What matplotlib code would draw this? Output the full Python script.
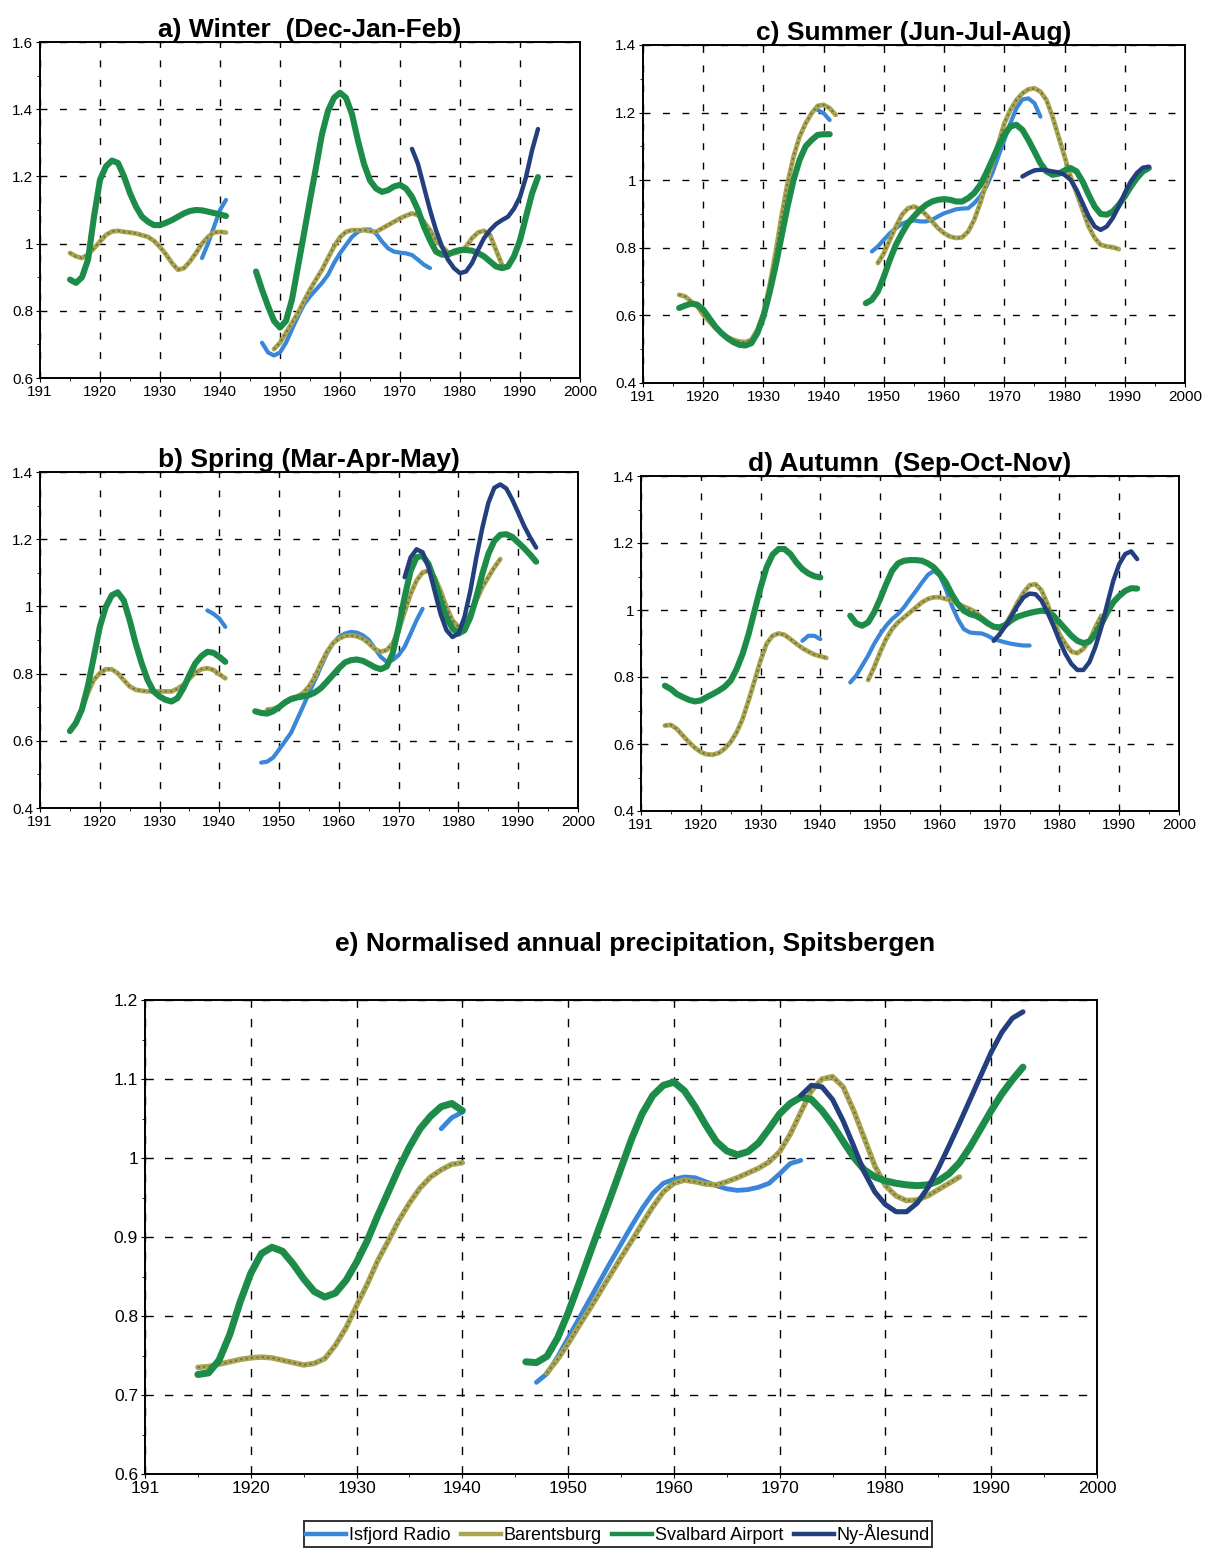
import numpy as np
import matplotlib
matplotlib.use("Agg")
import matplotlib.pyplot as plt
from matplotlib.lines import Line2D

plt.rcParams['font.family'] = ['Liberation Sans', 'DejaVu Sans']

# station colours
ISF_C = '#3a86d8'
BAR_C = '#a8a452'
SVA_C = '#1c8c48'
NYA_C = '#233f7e'

# each series is a list of segments: (first year, yearly values)

# a) winter
a_isf = [(1937, [0.957, 1.0, 1.05, 1.10, 1.13]),
         (1947, [0.705, 0.676, 0.667, 0.676, 0.705, 0.745, 0.784, 0.819, 0.843, 0.863,
                 0.883, 0.907, 0.942, 0.971, 0.996, 1.02, 1.035, 1.042, 1.042, 1.03,
                 1.006, 0.986, 0.976, 0.973, 0.971, 0.966, 0.952, 0.937, 0.927])]
a_bar = [(1915, [0.972, 0.962, 0.957, 0.967, 0.986, 1.006, 1.026, 1.036, 1.038, 1.035,
                 1.033, 1.03, 1.025, 1.02, 1.008, 0.99, 0.968, 0.942, 0.922, 0.927,
                 0.947, 0.972, 1.0, 1.02, 1.033, 1.035, 1.033]),
         (1949, [0.686, 0.705, 0.735, 0.764, 0.794, 0.829, 0.863, 0.893, 0.922, 0.957,
                 0.991, 1.019, 1.035, 1.04, 1.04, 1.04, 1.037, 1.035, 1.045, 1.055,
                 1.065, 1.075, 1.083, 1.09, 1.085, 1.065, 1.04, 1.01, 0.991, 0.974,
                 0.971, 0.976, 0.991, 1.016, 1.033, 1.038, 1.026, 0.981, 0.937])]
a_sva = [(1915, [0.893, 0.883, 0.90, 0.952, 1.08, 1.19, 1.23, 1.247, 1.24, 1.20,
                 1.15, 1.11, 1.08, 1.065, 1.055, 1.055, 1.062, 1.07, 1.08, 1.09,
                 1.097, 1.10, 1.099, 1.095, 1.091, 1.087, 1.082]),
         (1946, [0.917, 0.863, 0.814, 0.77, 0.75, 0.77, 0.834, 0.932, 1.03, 1.13,
                 1.227, 1.326, 1.395, 1.434, 1.449, 1.434, 1.385, 1.306, 1.237, 1.188,
                 1.164, 1.154, 1.159, 1.17, 1.175, 1.164, 1.139, 1.10, 1.05, 1.01,
                 0.976, 0.967, 0.967, 0.976, 0.981, 0.981, 0.979, 0.972, 0.962, 0.947,
                 0.932, 0.927, 0.932, 0.962, 1.01, 1.08, 1.149, 1.198])]
a_nya = [(1972, [1.282, 1.237, 1.168, 1.10, 1.04, 0.991, 0.952, 0.927, 0.912, 0.917,
                 0.942, 0.981, 1.016, 1.04, 1.058, 1.07, 1.08, 1.104, 1.139, 1.198,
                 1.277, 1.341])]

# b) spring
b_isf = [(1938, [0.988, 0.978, 0.964, 0.939]),
         (1947, [0.535, 0.538, 0.55, 0.574, 0.599, 0.624, 0.663, 0.702, 0.742, 0.781,
                 0.821, 0.86, 0.89, 0.909, 0.919, 0.924, 0.922, 0.914, 0.90, 0.875,
                 0.85, 0.835, 0.84, 0.855, 0.88, 0.919, 0.959, 0.993])]
b_bar = [(1916, [0.653, 0.693, 0.742, 0.781, 0.801, 0.813, 0.813, 0.801, 0.781, 0.762,
                 0.752, 0.749, 0.747, 0.747, 0.747, 0.747, 0.747, 0.755, 0.767, 0.785,
                 0.803, 0.813, 0.816, 0.811, 0.798, 0.786]),
         (1948, [0.693, 0.695, 0.702, 0.717, 0.727, 0.732, 0.742, 0.762, 0.791, 0.83,
                 0.865, 0.89, 0.904, 0.912, 0.914, 0.911, 0.904, 0.89, 0.873, 0.865,
                 0.87, 0.89, 0.929, 0.983, 1.037, 1.077, 1.101, 1.106, 1.087, 1.047,
                 0.998, 0.959, 0.939, 0.949, 0.978, 1.018, 1.057, 1.087, 1.116, 1.141])]
b_sva = [(1915, [0.629, 0.653, 0.693, 0.762, 0.85, 0.939, 0.998, 1.033, 1.042, 1.018,
                 0.959, 0.89, 0.831, 0.781, 0.747, 0.732, 0.722, 0.717, 0.727, 0.757,
                 0.796, 0.831, 0.852, 0.865, 0.862, 0.85, 0.835]),
         (1946, [0.688, 0.683, 0.681, 0.688, 0.70, 0.714, 0.724, 0.729, 0.732, 0.736,
                 0.744, 0.757, 0.776, 0.796, 0.816, 0.833, 0.84, 0.842, 0.838, 0.829,
                 0.819, 0.813, 0.821, 0.86, 0.939, 1.028, 1.106, 1.146, 1.151, 1.126,
                 1.077, 1.018, 0.968, 0.934, 0.919, 0.929, 0.968, 1.028, 1.097, 1.156,
                 1.195, 1.213, 1.215, 1.207, 1.19, 1.173, 1.154, 1.133])]
b_nya = [(1971, [1.087, 1.146, 1.17, 1.161, 1.116, 1.047, 0.978, 0.929, 0.909, 0.919,
                 0.968, 1.047, 1.146, 1.234, 1.308, 1.353, 1.363, 1.351, 1.318, 1.279,
                 1.239, 1.205, 1.175])]

# c) summer
c_isf = [(1939, [1.208, 1.198, 1.178]),
         (1948, [0.789, 0.804, 0.824, 0.843, 0.858, 0.871, 0.878, 0.881, 0.878, 0.878,
                 0.883, 0.893, 0.902, 0.908, 0.914, 0.916, 0.917, 0.932, 0.952, 0.981,
                 1.021, 1.07, 1.119, 1.168, 1.213, 1.239, 1.242, 1.228, 1.188])]
c_bar = [(1916, [0.661, 0.656, 0.641, 0.627, 0.602, 0.582, 0.563, 0.548, 0.536, 0.528,
                 0.523, 0.521, 0.528, 0.558, 0.607, 0.686, 0.784, 0.893, 0.991, 1.07,
                 1.129, 1.168, 1.198, 1.22, 1.223, 1.213, 1.193]),
         (1949, [0.755, 0.784, 0.824, 0.863, 0.898, 0.917, 0.922, 0.914, 0.898, 0.878,
                 0.858, 0.843, 0.833, 0.829, 0.831, 0.848, 0.883, 0.932, 0.991, 1.05,
                 1.109, 1.168, 1.208, 1.237, 1.257, 1.269, 1.272, 1.262, 1.237, 1.188,
                 1.129, 1.07, 1.011, 0.962, 0.912, 0.863, 0.829, 0.809, 0.804, 0.802,
                 0.796])]
c_sva = [(1916, [0.622, 0.629, 0.635, 0.632, 0.617, 0.592, 0.567, 0.548, 0.533, 0.521,
                 0.513, 0.511, 0.518, 0.548, 0.597, 0.666, 0.745, 0.834, 0.922, 1.001,
                 1.06, 1.10, 1.119, 1.134, 1.136, 1.136]),
         (1947, [0.636, 0.646, 0.671, 0.715, 0.765, 0.809, 0.843, 0.873, 0.893, 0.912,
                 0.927, 0.937, 0.942, 0.944, 0.942, 0.937, 0.937, 0.947, 0.962, 0.986,
                 1.021, 1.06, 1.10, 1.134, 1.159, 1.164, 1.149, 1.119, 1.085, 1.05,
                 1.026, 1.016, 1.019, 1.029, 1.036, 1.026, 0.996, 0.957, 0.922, 0.90,
                 0.898, 0.907, 0.927, 0.952, 0.981, 1.006, 1.026, 1.036])]
c_nya = [(1973, [1.011, 1.021, 1.029, 1.031, 1.029, 1.026, 1.023, 1.016, 1.001, 0.971,
                 0.932, 0.893, 0.863, 0.853, 0.863, 0.888, 0.922, 0.962, 0.996, 1.021,
                 1.037, 1.04])]

# d) autumn
d_isf = [(1937, [0.908, 0.923, 0.923, 0.913]),
         (1945, [0.784, 0.804, 0.834, 0.864, 0.899, 0.928, 0.953, 0.973, 0.988, 1.008,
                 1.033, 1.057, 1.082, 1.105, 1.117, 1.102, 1.062, 1.013, 0.973, 0.943,
                 0.933, 0.931, 0.93, 0.923, 0.913, 0.908, 0.903, 0.899, 0.896, 0.894,
                 0.894])]
d_bar = [(1914, [0.655, 0.657, 0.645, 0.625, 0.606, 0.589, 0.576, 0.569, 0.568, 0.573,
                 0.586, 0.606, 0.635, 0.675, 0.73, 0.789, 0.849, 0.899, 0.923, 0.93,
                 0.926, 0.913, 0.899, 0.886, 0.876, 0.867, 0.862, 0.857]),
         (1948, [0.791, 0.829, 0.874, 0.913, 0.943, 0.963, 0.978, 0.993, 1.008, 1.023,
                 1.033, 1.038, 1.038, 1.033, 1.028, 1.02, 1.01, 1.003, 0.993, 0.978,
                 0.963, 0.95, 0.943, 0.958, 0.988, 1.023, 1.052, 1.074, 1.077, 1.059,
                 1.018, 0.968, 0.928, 0.899, 0.876, 0.871, 0.884, 0.908, 0.948, 0.983])]
d_sva = [(1914, [0.774, 0.764, 0.749, 0.74, 0.732, 0.727, 0.73, 0.74, 0.749, 0.759,
                 0.771, 0.789, 0.824, 0.869, 0.928, 0.998, 1.067, 1.127, 1.165, 1.182,
                 1.182, 1.167, 1.142, 1.122, 1.109, 1.101, 1.097]),
         (1945, [0.983, 0.96, 0.953, 0.963, 0.993, 1.033, 1.077, 1.117, 1.139, 1.147,
                 1.149, 1.149, 1.147, 1.139, 1.127, 1.107, 1.082, 1.047, 1.018, 0.998,
                 0.988, 0.983, 0.973, 0.96, 0.95, 0.948, 0.956, 0.97, 0.98, 0.986,
                 0.991, 0.995, 0.998, 0.996, 0.983, 0.963, 0.943, 0.923, 0.908, 0.901,
                 0.906, 0.928, 0.958, 0.993, 1.023, 1.042, 1.057, 1.065, 1.064])]
d_nya = [(1969, [0.908, 0.928, 0.953, 0.983, 1.013, 1.038, 1.049, 1.047, 1.028, 0.993,
                 0.953, 0.908, 0.869, 0.839, 0.821, 0.821, 0.844, 0.889, 0.948, 1.018,
                 1.087, 1.137, 1.167, 1.175, 1.152])]

# e) annual
e_isf = [(1938, [1.037, 1.051, 1.058]),
         (1947, [0.716, 0.727, 0.748, 0.772, 0.796, 0.82, 0.844, 0.868, 0.891, 0.914,
                 0.936, 0.955, 0.968, 0.973, 0.976, 0.975, 0.97, 0.965, 0.961, 0.959,
                 0.96, 0.963, 0.968, 0.98, 0.993, 0.997])]
e_bar = [(1915, [0.735, 0.736, 0.739, 0.742, 0.745, 0.747, 0.748, 0.747, 0.744, 0.741,
                 0.738, 0.74, 0.746, 0.763, 0.785, 0.813, 0.84, 0.87, 0.895, 0.921,
                 0.943, 0.962, 0.976, 0.985, 0.992, 0.994]),
         (1948, [0.728, 0.745, 0.765, 0.787, 0.808, 0.83, 0.852, 0.874, 0.895, 0.917,
                 0.938, 0.957, 0.968, 0.972, 0.97, 0.967, 0.966, 0.97, 0.975, 0.981,
                 0.987, 0.995, 1.008, 1.03, 1.058, 1.085, 1.10, 1.103, 1.09, 1.06,
                 1.025, 0.99, 0.965, 0.952, 0.946, 0.947, 0.952, 0.96, 0.968, 0.976])]
e_sva = [(1915, [0.726, 0.728, 0.744, 0.776, 0.818, 0.854, 0.879, 0.887, 0.882, 0.866,
                 0.847, 0.831, 0.824, 0.829, 0.845, 0.868, 0.895, 0.927, 0.957, 0.987,
                 1.014, 1.037, 1.053, 1.065, 1.069, 1.06]),
         (1946, [0.742, 0.741, 0.749, 0.772, 0.804, 0.84, 0.877, 0.914, 0.95, 0.987,
                 1.024, 1.056, 1.079, 1.092, 1.096, 1.085, 1.065, 1.042, 1.021, 1.009,
                 1.004, 1.008, 1.019, 1.037, 1.056, 1.069, 1.077, 1.074, 1.06, 1.042,
                 1.021, 1.001, 0.985, 0.976, 0.971, 0.968, 0.966, 0.965, 0.966, 0.971,
                 0.98, 0.994, 1.014, 1.037, 1.06, 1.081, 1.099, 1.115])]
e_nya = [(1972, [1.079, 1.092, 1.09, 1.074, 1.047, 1.015, 0.982, 0.957, 0.941, 0.932,
                 0.932, 0.943, 0.962, 0.987, 1.015, 1.044, 1.074, 1.104, 1.134, 1.159,
                 1.177, 1.185])]

stations = ['Isfjord Radio', 'Barentsburg', 'Svalbard Airport', 'Ny-Ålesund']
year_ticks = [1910, 1920, 1930, 1940, 1950, 1960, 1970, 1980, 1990, 2000]
year_labels = ['191', '1920', '1930', '1940', '1950', '1960', '1970', '1980', '1990', '2000']

W, H = 1210, 1548
fig = plt.figure(figsize=(W / 100, H / 100), dpi=100)


def box(left, top, right, bottom):
    # pixel box -> figure fraction
    return [left / W, 1 - bottom / H, (right - left) / W, (bottom - top) / H]


def draw_series(ax, segments, color, lw, textured=False):
    for start, vals in segments:
        yrs = np.arange(start, start + len(vals))
        ax.plot(yrs, vals, color=color, lw=lw, solid_capstyle='round',
                solid_joinstyle='round')
        if textured:
            ax.plot(yrs, vals, color='#5a5830', lw=1.3, ls=(0, (1, 2)), alpha=0.8)


def season_panel(rect, title, series, ylim, yticks, ylabels, fs=11, big=False):
    ax = fig.add_axes(rect)
    isf, bar, sva, nya = series
    k = 1.15 if big else 1.0
    draw_series(ax, isf, ISF_C, 3.0 * k)
    draw_series(ax, bar, BAR_C, 3.4 * k, textured=True)
    draw_series(ax, sva, SVA_C, 4.4 * k)
    draw_series(ax, nya, NYA_C, 3.2 * k)
    ax.set_xlim(1910, 2000)
    ax.set_ylim(*ylim)
    ax.set_xticks(year_ticks)
    ax.set_xticklabels(year_labels)
    ax.set_xticks(np.arange(1915, 2000, 10), minor=True)
    ax.set_yticks(yticks)
    ax.set_yticklabels(ylabels)
    step = yticks[1] - yticks[0]
    ax.set_yticks(np.arange(ylim[0] + step / 2, ylim[1], step), minor=True)
    ax.grid(True, which='major', color='black', lw=1.0,
            ls=(0, (5, 9)) if not big else (0, (6, 8)))
    ax.set_axisbelow(True)
    ax.tick_params(which='major', direction='out', length=3, labelsize=fs, pad=2)
    ax.tick_params(which='minor', direction='out', length=2)
    for s in ax.spines.values():
        s.set_linewidth(1.4)
    if title:
        ax.set_title(title, fontsize=19, fontweight='bold', pad=3)
    return ax


season_panel(box(40, 42, 580, 378), 'a) Winter  (Dec-Jan-Feb)',
             (a_isf, a_bar, a_sva, a_nya), (0.6, 1.6),
             [0.6, 0.8, 1.0, 1.2, 1.4, 1.6], ['0.6', '0.8', '1', '1.2', '1.4', '1.6'])
season_panel(box(643, 45, 1185, 383), 'c) Summer (Jun-Jul-Aug)',
             (c_isf, c_bar, c_sva, c_nya), (0.4, 1.4),
             [0.4, 0.6, 0.8, 1.0, 1.2, 1.4], ['0.4', '0.6', '0.8', '1', '1.2', '1.4'])
season_panel(box(40, 472, 578, 808), 'b) Spring (Mar-Apr-May)',
             (b_isf, b_bar, b_sva, b_nya), (0.4, 1.4),
             [0.4, 0.6, 0.8, 1.0, 1.2, 1.4], ['0.4', '0.6', '0.8', '1', '1.2', '1.4'])
season_panel(box(641, 476, 1179, 811), 'd) Autumn  (Sep-Oct-Nov)',
             (d_isf, d_bar, d_sva, d_nya), (0.4, 1.4),
             [0.4, 0.6, 0.8, 1.0, 1.2, 1.4], ['0.4', '0.6', '0.8', '1', '1.2', '1.4'])

ax_e = season_panel(box(145, 1000, 1097, 1474), None,
                    (e_isf, e_bar, e_sva, e_nya), (0.6, 1.2),
                    [0.6, 0.7, 0.8, 0.9, 1.0, 1.1, 1.2],
                    ['0.6', '0.7', '0.8', '0.9', '1', '1.1', '1.2'], fs=12.5, big=True)
fig.text(635 / W, 1 - 944 / H, 'e) Normalised annual precipitation, Spitsbergen',
         ha='center', va='center', fontsize=19, fontweight='bold')

handles = [Line2D([], [], color=c, lw=3.2) for c in (ISF_C, BAR_C, SVA_C, NYA_C)]
leg = fig.legend(handles, stations, loc='center', bbox_to_anchor=(618 / W, 1 - 1534 / H),
                 ncol=4, fontsize=13, frameon=True, fancybox=False, handlelength=2.2,
                 handletextpad=0.15, columnspacing=0.6, borderpad=0.15, borderaxespad=0)
leg.get_frame().set_edgecolor('black')
leg.get_frame().set_linewidth(1.4)

fig.savefig('out.png', dpi=100, facecolor='white')
